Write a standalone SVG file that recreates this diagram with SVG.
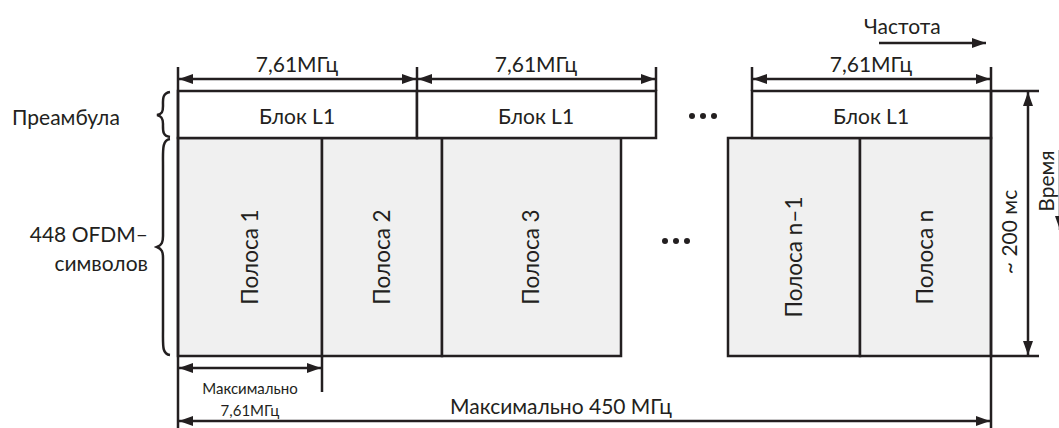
<svg xmlns="http://www.w3.org/2000/svg" width="1059" height="428" viewBox="0 0 1059 428">
<defs>
<marker id="ah" viewBox="0 0 14 10" refX="14" refY="5" markerWidth="14" markerHeight="10" markerUnits="userSpaceOnUse" orient="auto-start-reverse">
<path d="M0,0 L14,5 L0,10 z" fill="#231f20"/>
</marker>
<style>
.ln{stroke:#231f20;stroke-width:2.5;fill:none}
.box{stroke:#231f20;stroke-width:2.5;fill:#ffffff}
.band{stroke:#231f20;stroke-width:2.5;fill:#f0f0f0}
.dim{stroke:#231f20;stroke-width:2.5;fill:none;marker-start:url(#ah);marker-end:url(#ah)}
.one{stroke:#231f20;stroke-width:2.5;fill:none;marker-end:url(#ah)}
text{font-family:Lato,"Open Sans","Liberation Sans",sans-serif;fill:#231f20;font-size:21px}
.m{text-anchor:middle}
.r{text-anchor:end}
.s{font-size:15px}
.b{font-size:22.5px}
.dot{fill:#231f20}
</style>
</defs>
<rect width="1059" height="428" fill="#ffffff"/>

<g id="bands">
<rect class="band" x="178" y="138" width="144" height="218"/>
<rect class="band" x="322" y="138" width="120" height="218"/>
<rect class="band" x="442" y="138" width="179" height="218"/>
<rect class="band" x="728" y="138" width="132" height="218"/>
<rect class="band" x="860" y="138" width="131" height="218"/>
<text class="b m" transform="translate(250,257) rotate(-90)" y="8">Полоса 1</text>
<text class="b m" transform="translate(382,257) rotate(-90)" y="8">Полоса 2</text>
<text class="b m" transform="translate(531,257) rotate(-90)" y="8">Полоса 3</text>
<text class="b m" transform="translate(794,257) rotate(-90)" y="8">Полоса n–1</text>
<text class="b m" transform="translate(925,257) rotate(-90)" y="8">Полоса n</text>
</g>

<g id="blocks">
<rect class="box" x="178" y="91" width="239" height="47"/>
<rect class="box" x="417" y="91" width="239" height="47"/>
<rect class="box" x="752" y="91" width="239" height="47"/>
<text class="m" x="297" y="124">Блок L1</text>
<text class="m" x="536" y="124">Блок L1</text>
<text class="m" x="871" y="124">Блок L1</text>
</g>

<g id="dots">
<circle class="dot" cx="692" cy="116" r="3"/>
<circle class="dot" cx="703" cy="116" r="3"/>
<circle class="dot" cx="714" cy="116" r="3"/>
<circle class="dot" cx="665" cy="241" r="3"/>
<circle class="dot" cx="676" cy="241" r="3"/>
<circle class="dot" cx="687" cy="241" r="3"/>
</g>

<g id="labels">
<text x="12" y="125">Преамбула</text>
<text class="r" x="148" y="242">448 OFDM–</text>
<text class="r" x="148" y="271">символов</text>
<path class="ln" stroke-width="1.8" d="M170,92 C162,93 163,100 163,106 C163,112 162,114 157,115 C162,116 163,119 163,124 C163,130 162,136 170,137"/>
<path class="ln" stroke-width="1.8" d="M170,139 C162,140 163,150 163,165 L163,236 C163,242 162,245 157,247 C162,249 163,252 163,258 L163,330 C163,346 162,354 170,355"/>
</g>

<g id="connectors">
<line class="ln" x1="178" y1="67" x2="178" y2="428"/>
<line class="ln" x1="417" y1="67" x2="417" y2="91"/>
<line class="ln" x1="656" y1="67" x2="656" y2="91"/>
<line class="ln" x1="752" y1="67" x2="752" y2="91"/>
<line class="ln" x1="991" y1="67" x2="991" y2="428"/>
<line class="dim" x1="179" y1="79" x2="416" y2="79"/>
<line class="dim" x1="418" y1="79" x2="655" y2="79"/>
<line class="dim" x1="753" y1="79" x2="990" y2="79"/>
<line class="one" x1="879" y1="43" x2="986" y2="43"/>
<line class="ln" x1="991" y1="91" x2="1039" y2="91"/>
<line class="ln" x1="991" y1="356" x2="1039" y2="356"/>
<line class="dim" x1="1028" y1="92" x2="1028" y2="355"/>
<line class="one" x1="1060" y1="150" x2="1060" y2="230"/>
<line class="ln" x1="322" y1="356" x2="322" y2="392"/>
<line class="dim" x1="179" y1="368" x2="321" y2="368"/>
<line class="dim" x1="179" y1="421" x2="990" y2="421"/>
</g>

<g id="dimtexts">
<text class="m" x="297" y="72">7,61МГц</text>
<text class="m" x="536" y="72">7,61МГц</text>
<text class="m" x="871" y="72">7,61МГц</text>
<text x="864" y="34" font-size="19.5">Частота</text>
<text class="m" transform="translate(1010,232) rotate(-90)" y="7">~ 200 мс</text>
<text class="m" transform="translate(1047,181) rotate(-90)" y="7" font-size="18.5">Время</text>
<text class="m s" x="250" y="394">Максимально</text>
<text class="m s" x="250" y="416">7,61МГц</text>
<text class="m" x="561" y="414">Максимально 450 МГц</text>
</g>
</svg>
